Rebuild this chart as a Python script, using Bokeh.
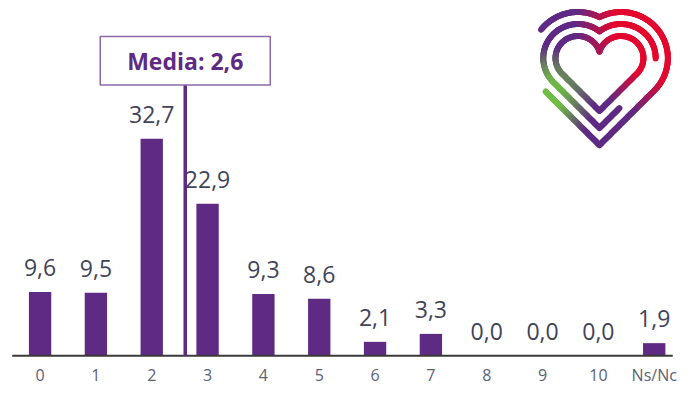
import math
import numpy as np
from bokeh.plotting import figure
from bokeh.models import Range1d
from bokeh.embed import file_html
from bokeh.resources import INLINE
from bokeh.core.properties import value

# ---------------- data ----------------
categories = ["0", "1", "2", "3", "4", "5", "6", "7", "8", "9", "10", "Ns/Nc"]
values = [9.6, 9.5, 32.7, 22.9, 9.3, 8.6, 2.1, 3.3, 0.0, 0.0, 0.0, 1.9]
value_labels = ["9,6", "9,5", "32,7", "22,9", "9,3", "8,6", "2,1", "3,3", "0,0", "0,0", "0,0", "1,9"]
media = 2.6
media_label = "Media: 2,6"

# ---------------- layout (reference-pixel units) ----------------
W, H = 683, 386
REF_W, REF_H = 699, 402
PX_PER_CAT = 57.14
PX_PER_UNIT = 6.91
FIRST_BAR_PX = 40.5
BASELINE_PX = 370

BAR_COLOR = "#5e2a84"
VAL_COLOR = "#3f4458"
CAT_COLOR = "#5c6175"
FONT = "Open Sans"


def dx(px):
    return (px - FIRST_BAR_PX) / PX_PER_CAT


def dy(py):
    return (BASELINE_PX - py) / PX_PER_UNIT


p = figure(width=W, height=H,
           x_range=Range1d(dx(0), dx(REF_W)),
           y_range=Range1d(dy(REF_H), dy(0)),
           output_backend="svg", toolbar_location=None, min_border=0)
p.axis.visible = False
p.grid.visible = False
p.outline_line_color = None
p.background_fill_color = "white"
p.border_fill_color = "white"

idx = list(range(len(categories)))

# bars
p.vbar(x=idx, top=values, width=0.40, fill_color=BAR_COLOR, line_color=None)

# baseline
p.segment(x0=[dx(12)], y0=[0], x1=[dx(688)], y1=[0], line_color="#3a3a3a", line_width=2)

# value labels
p.text(x=idx, y=[v + 25.5 / PX_PER_UNIT for v in values], text=value_labels,
       text_align="center", text_baseline="middle",
       text_font=value(FONT), text_font_size="23px", text_color=VAL_COLOR)

# category labels
p.text(x=idx, y=[dy(390)] * len(idx), text=categories,
       text_align="center", text_baseline="middle",
       text_font=value(FONT), text_font_size="16px", text_color=CAT_COLOR)

# media line + box
box_half = 87 / PX_PER_CAT
box_top = dy(37.5)
box_bot = dy(88)
p.segment(x0=[media], y0=[0], x1=[media], y1=[box_bot], line_color=BAR_COLOR, line_width=3.5)
p.quad(left=[media - box_half], right=[media + box_half], top=[box_top], bottom=[box_bot],
       fill_color="white", line_color="#8d69ac", line_width=1.5)
p.text(x=[media], y=[(box_top + box_bot) / 2], text=[media_label],
       text_align="center", text_baseline="middle",
       text_font=value(FONT), text_font_style="bold", text_font_size="23px",
       text_color=BAR_COLOR)

# ---------------- heart logo (decoration) ----------------
HX, HY = 613, 60          # lobe-centre line position (reference pixels)
A_OFF = 22                 # lobe centre offset
R0, H0, D = 23, 55, 12.5   # inner ring radius, tip depth, ring spacing
phi = math.atan2(A_OFF, H0)
theta = phi + math.asin(R0 / math.hypot(A_OFF, H0))

red = np.array([227, 8, 46])
purple = np.array([94, 42, 132])
green = np.array([112, 190, 68])


def ring_points(R, h):
    pts = []
    step = 1.5
    tip = np.array([0.0, -h])
    pr = np.array([A_OFF + R * math.cos(theta), -R * math.sin(theta)])
    n = max(2, int(np.linalg.norm(pr - tip) / step))
    for t in np.linspace(0, 1, n, endpoint=False):
        pts.append(tip + (pr - tip) * t)
    a_end = math.pi - math.acos(A_OFF / R)
    n = max(2, int(R * (a_end + theta) / step))
    for ang in np.linspace(-theta, a_end, n, endpoint=False):
        pts.append(np.array([A_OFF + R * math.cos(ang), R * math.sin(ang)]))
    a_start = math.acos(A_OFF / R)
    n = max(2, int(R * (math.pi + theta - a_start) / step))
    for ang in np.linspace(a_start, math.pi + theta, n, endpoint=False):
        pts.append(np.array([-A_OFF + R * math.cos(ang), R * math.sin(ang)]))
    pl = np.array([-A_OFF - R * math.cos(theta), -R * math.sin(theta)])
    n = max(2, int(np.linalg.norm(pl - tip) / step))
    for t in np.linspace(0, 1, n + 1):
        pts.append(pl + (tip - pl) * t)
    return [(HX + q[0], HY - q[1]) for q in pts]


def colour(X, Y):
    dr = math.hypot(X - 680, Y - 25)
    dg = math.hypot(X - 555, Y - 105)
    tr = min(1, max(0, 1 - (dr - 55) / 40))
    tg = min(1, max(0, 1 - (dg - 20) / 35))
    s = tr + tg
    if s > 1:
        tr, tg = tr / s, tg / s
    c = purple * (1 - tr - tg) + red * tr + green * tg
    return "#%02x%02x%02x" % tuple(int(round(v)) for v in c)


xs, ys, cols = [], [], []
for k in range(3):
    R = R0 + k * D
    h = H0 + k * D / math.sin(theta)
    pts = ring_points(R, h)
    for (x1, y1), (x2, y2) in zip(pts[:-1], pts[1:]):
        mx, my = (x1 + x2) / 2, (y1 + y2) / 2
        if k == 2 and mx < 600 and 30 < my < 95:
            continue
        if k == 1 and mx > 625 and 61 < my < 112:
            continue
        xs.append([dx(x1), dx(x2)])
        ys.append([dy(y1), dy(y2)])
        cols.append(colour(mx, my))

p.multi_line(xs=xs, ys=ys, line_color=cols, line_width=6, line_cap="round")

open("out.html", "w").write(file_html(p, INLINE))
